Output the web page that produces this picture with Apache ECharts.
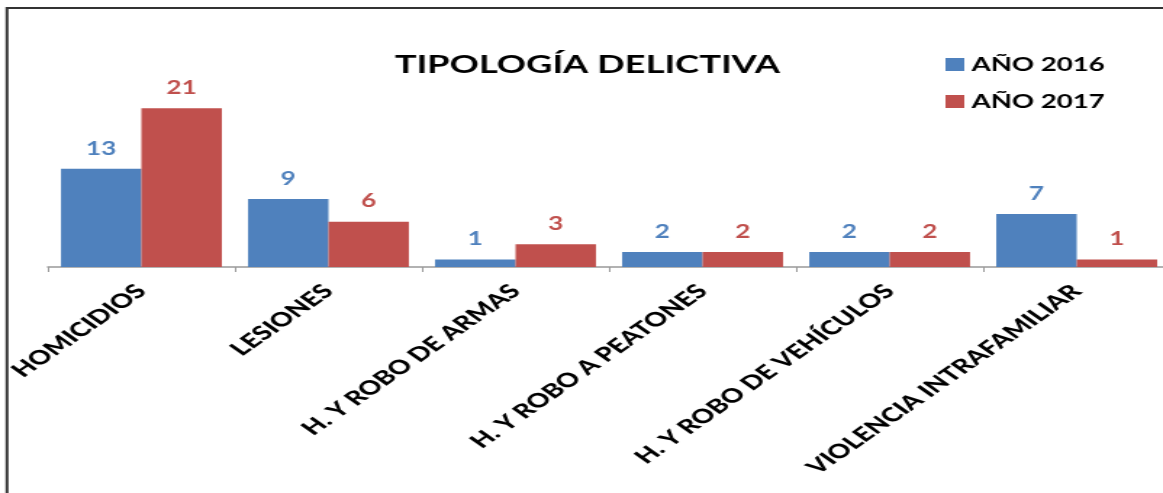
<!DOCTYPE html>
<html lang="es">
<head>
    <meta charset="UTF-8">
    <title>Tipología delictiva</title>
    <style>
        html, body { margin: 0; padding: 0; overflow: hidden; background: #fff; }
        /* el original es un gráfico de Excel estirado en horizontal */
        #main { width: 802px; height: 493px; transform: scaleX(1.4501); transform-origin: 0 0; }
    </style>
</head>
<body>
    <div id="main"></div>
    <script src="https://cdn.jsdelivr.net/npm/echarts@6/dist/echarts.min.js"></script>
    <script type="text/javascript">
        var categorias = ['HOMICIDIOS', 'LESIONES', 'H. Y ROBO DE ARMAS', 'H. Y ROBO A PEATONES', 'H. Y ROBO DE VEHÍCULOS', 'VIOLENCIA INTRAFAMILIAR'];
        var anio2016 = [13, 9, 1, 2, 2, 7];
        var anio2017 = [21, 6, 3, 2, 2, 1];
        var nombres = ['AÑO 2016', 'AÑO 2017'];
        var titulo = 'TIPOLOGÍA DELICTIVA';

        var AZUL = '#4F81BD';
        var ROJO = '#C0504D';
        var FUENTE = 'Lato';

        var myChart = echarts.init(document.getElementById('main'));

        var etiqueta = function (color) {
            return {
                show: true,
                position: 'top',
                distance: 11,
                color: color,
                fontFamily: FUENTE,
                fontWeight: 'bold',
                fontSize: 18
            };
        };

        var option = {
            animation: false,
            title: {
                text: titulo,
                left: 400,
                top: 47,
                textAlign: 'center',
                textStyle: { fontFamily: FUENTE, fontWeight: 'bold', fontSize: 25, color: '#000' }
            },
            legend: {
                orient: 'vertical',
                left: 647,
                top: 50,
                itemWidth: 13,
                itemHeight: 13,
                itemGap: 18,
                icon: 'rect',
                textStyle: { fontFamily: FUENTE, fontWeight: 'bold', fontSize: 19, color: '#000' },
                data: nombres
            },
            grid: { left: 33, width: 774, top: 78, bottom: 226, containLabel: false, outerBoundsMode: 'none' },
            xAxis: {
                type: 'category',
                data: categorias,
                axisLine: { lineStyle: { color: '#999', width: 1.5 } },
                axisTick: { show: true, length: 5, lineStyle: { color: '#999' } },
                axisLabel: {
                    rotate: 45,
                    margin: 21,
                    interval: 0,
                    color: '#000',
                    fontFamily: FUENTE,
                    fontWeight: 900,
                    fontSize: 19.5
                }
            },
            yAxis: {
                type: 'value',
                min: 0,
                max: 25,
                show: false,
                splitLine: { show: false }
            },
            series: [{
                name: nombres[0],
                type: 'bar',
                data: anio2016,
                barGap: 0,
                barCategoryGap: '14%',
                itemStyle: { color: AZUL },
                label: etiqueta(AZUL)
            }, {
                name: nombres[1],
                type: 'bar',
                data: anio2017,
                itemStyle: { color: ROJO },
                label: etiqueta(ROJO)
            }],
            graphic: [{
                type: 'polyline',
                silent: true,
                shape: { points: [[4.8, 493], [4.8, 8], [802, 8]] },
                style: { stroke: '#333', lineWidth: 2, fill: null }
            }]
        };

        myChart.setOption(option);
    </script>
</body>
</html>
